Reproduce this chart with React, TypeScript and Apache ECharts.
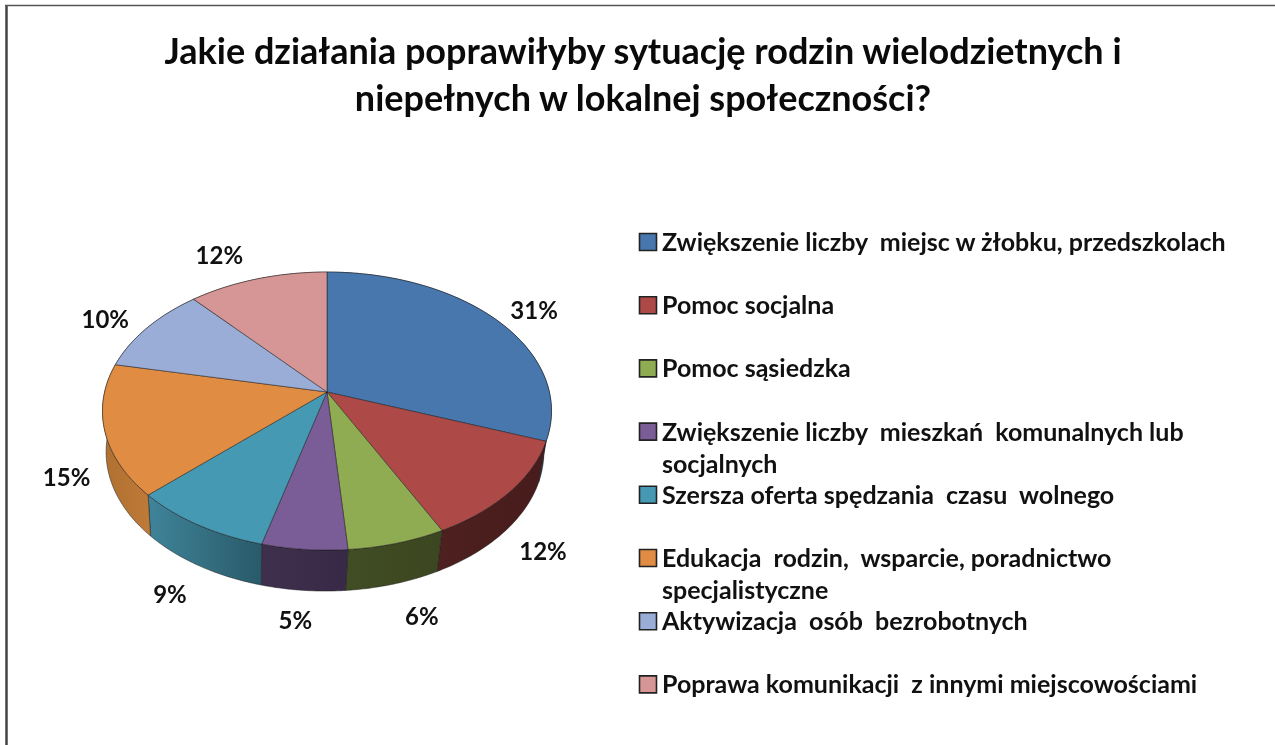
import React, { useEffect, useRef } from "react";
import * as echarts from "echarts";

const titleText = "Jakie działania poprawiłyby sytuację rodzin wielodzietnych i\nniepełnych w lokalnej społeczności?";
const categories = [
  "Zwiększenie liczby  miejsc w żłobku, przedszkolach",
  "Pomoc socjalna",
  "Pomoc sąsiedzka",
  "Zwiększenie liczby  mieszkań  komunalnych lub\nsocjalnych",
  "Szersza oferta spędzania  czasu  wolnego",
  "Edukacja  rodzin,  wsparcie, poradnictwo\nspecjalistyczne",
  "Aktywizacja  osób  bezrobotnych",
  "Poprawa komunikacji  z innymi miejscowościami",
];
// Slice shares; the printed labels are these rounded.
const values = [30.6, 11.9, 6.2, 5.4, 8.9, 15.3, 10.2, 11.5];
const topColors = ["#4877AE", "#AD4A48", "#90AC52", "#7A5C96", "#4599B3", "#E08C42", "#9AADD6", "#D59695"];
const sideLeft = ["#2F5078", "#4E2020", "#414D24", "#3F2F4E", "#3F8499", "#B07030", "#6A7DA0", "#A06060"];
const sideRight = ["#2B4A70", "#481C1C", "#3C4620", "#382A46", "#295A6A", "#BE7A38", "#6A7DA0", "#A06060"];
const labelOffsets = [
  [38, -10], [33, 59], [25, 72], [-9, 70], [-28, 69], [-38, 46], [-42, -9], [-38, -24],
];

const CX = 327;
const CY = 392;
const A = 222.4;
const B = 136.4;
const K = 0.137;
const DEPTH = 41;
const BOTTOM_SCALE = 0.975;
const BOTTOM_CX = 325;
const FONT = "Lato";

const total = values.reduce((a, b) => a + b, 0);
const starts: number[] = [];
values.reduce((acc, v, i) => {
  starts[i] = acc;
  return acc + v;
}, 0);

// Perspective projection of a point on the pie rim, angle clockwise from 12 o'clock.
function rim(theta: number): [number, number] {
  const u = Math.sin(theta);
  const v = -Math.cos(theta);
  const d = 1 - K * v;
  return [CX + (A * u) / d, CY + (B * v) / d];
}

function arc(i: number, value: number): [number, number][] {
  const a0 = (starts[i] / total) * Math.PI * 2;
  const a1 = ((starts[i] + value) / total) * Math.PI * 2;
  const pts: [number, number][] = [];
  const n = 48;
  for (let s = 0; s <= n; s++) pts.push(rim(a0 + ((a1 - a0) * s) / n));
  return pts;
}

const edge = "rgba(25,25,25,0.62)";

function renderSide(params: any, api: any) {
  const i = params.dataIndex;
  const pts = arc(i, api.value(0));
  const low = pts.map(([x, y]) => [BOTTOM_CX + (x - CX) * BOTTOM_SCALE, y + DEPTH]).reverse();
  return {
    type: "polygon",
    shape: { points: [...pts, ...low] },
    style: {
      fill: new echarts.graphic.LinearGradient(0, 0, 1, 0, [
        { offset: 0, color: sideLeft[i] },
        { offset: 1, color: sideRight[i] },
      ]),
      stroke: edge,
      lineWidth: 0.8,
    },
  };
}

function renderTop(params: any, api: any) {
  const i = params.dataIndex;
  const value = api.value(0);
  const pts = arc(i, value);
  const mid = pts[Math.floor(pts.length / 2)];
  return {
    type: "group",
    children: [
      {
        type: "polygon",
        shape: { points: [[CX, CY], ...pts] },
        style: { fill: topColors[i], stroke: edge, lineWidth: 0.8 },
      },
      {
        type: "text",
        style: {
          x: mid[0] + labelOffsets[i][0],
          y: mid[1] + labelOffsets[i][1],
          text: `${Math.round(value)}%`,
          align: "center",
          verticalAlign: "middle",
          fill: "#111111",
          font: `bold 24px ${FONT}`,
        },
      },
    ],
  };
}

const legendGraphics = categories.flatMap((name, i) => {
  const y = 242 + i * 63.2;
  return [
    {
      type: "rect",
      shape: { x: 639.5, y: y - 8.5, width: 17, height: 17 },
      style: { fill: topColors[i], stroke: "#222222", lineWidth: 1.6 },
    },
    {
      type: "text",
      style: {
        x: 662,
        y: y - 17,
        text: name,
        fill: "#111111",
        font: `bold 25px ${FONT}`,
        lineHeight: 32,
        align: "left",
        verticalAlign: "top",
      },
    },
  ];
});

export default function App() {
  const ref = useRef<HTMLDivElement>(null);
  useEffect(() => {
    document.body.style.margin = "0";
    const chart = echarts.init(ref.current!, null, { renderer: "svg" });
    const data = values.map((v, i) => ({ name: categories[i], value: v }));
    chart.setOption({
      animation: false,
      backgroundColor: "#FFFFFF",
      title: {
        text: titleText,
        left: 643,
        top: 21,
        textAlign: "center",
        textStyle: { fontFamily: FONT, fontWeight: "bold", fontSize: 36, lineHeight: 47, color: "#0A0A0A" },
      },
      graphic: [
        { type: "line", shape: { x1: 6.5, y1: 6, x2: 6.5, y2: 745 }, style: { stroke: "#444444", lineWidth: 2.5 } },
        { type: "line", shape: { x1: 5, y1: 5.5, x2: 1275, y2: 5.5 }, style: { stroke: "#555555", lineWidth: 1.6 } },
        ...legendGraphics,
      ],
      series: [
        { type: "custom", coordinateSystem: "none", silent: true, data, renderItem: renderSide },
        { type: "custom", coordinateSystem: "none", silent: true, data, renderItem: renderTop },
      ],
    });
    chart.setOption({ title: { left: 638 } });
    return () => chart.dispose();
  }, []);
  return <div ref={ref} style={{ width: 1275, height: 745, filter: "blur(0.4px)" }} />;
}
